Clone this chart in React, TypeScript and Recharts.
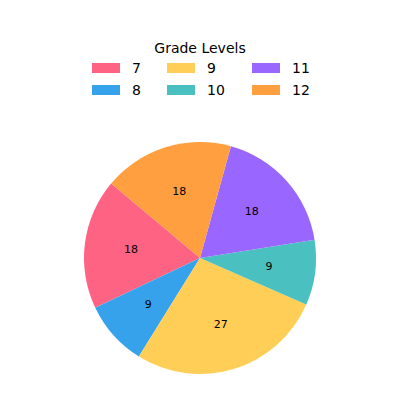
import React from "react";
import { PieChart, Pie, Cell, Legend } from "recharts";

const grades = ["7", "8", "9", "10", "11", "12"];
const percents = [18, 9, 27, 9, 18, 18];
const colors = ["#FF6384", "#36A2EB", "#FFCE56", "#4BC0C0", "#9966FF", "#FF9F40"];
const legendTitle = "Grade Levels";

const data = grades.map((g, i) => ({ name: g, value: percents[i] }));

const RAD = Math.PI / 180;
const FONT = "'DejaVu Sans', sans-serif";

const renderLabel = (props: any) => {
  const { cx, cy, midAngle, outerRadius, value } = props;
  const r = outerRadius * 0.6;
  const x = cx + r * Math.cos(-midAngle * RAD);
  const y = cy + r * Math.sin(-midAngle * RAD);
  return (
    <text x={x} y={y} textAnchor="middle" dominantBaseline="central" fontSize={11} fill="#000" fontFamily={FONT}>
      {value}
    </text>
  );
};

const colX = [92, 167, 252];
const rowY = [63, 85];

const LegendContent = () => (
  <div style={{ position: "relative", width: 400, height: 110, fontFamily: FONT }}>
    <div style={{ position: "absolute", left: 0, width: 400, top: 39, textAlign: "center", fontSize: 14, lineHeight: "18px", color: "#000" }}>
      {legendTitle}
    </div>
    {grades.map((g, i) => {
      const col = Math.floor(i / 2);
      const row = i % 2;
      return (
        <div key={g}>
          <div style={{ position: "absolute", left: colX[col], top: rowY[row], width: 28, height: 10, background: colors[i] }} />
          <div style={{ position: "absolute", left: colX[col] + 40, top: rowY[row] - 4, fontSize: 14, lineHeight: "18px", color: "#000" }}>{g}</div>
        </div>
      );
    })}
  </div>
);

export default function App() {
  return (
    <div style={{ position: "absolute", left: 0, top: 0, width: 400, height: 400, background: "#fff" }}>
      <PieChart width={400} height={400} margin={{ top: 0, right: 0, bottom: 0, left: 0 }}>
        <Pie
          data={data}
          dataKey="value"
          nameKey="name"
          cx={200}
          cy={258}
          outerRadius={116}
          startAngle={140}
          endAngle={500}
          stroke="none"
          label={renderLabel}
          labelLine={false}
          isAnimationActive={false}
        >
          {data.map((d, i) => (
            <Cell key={d.name} fill={colors[i]} />
          ))}
        </Pie>
        <Legend
          content={<LegendContent />}
          wrapperStyle={{ position: "absolute", left: 0, top: 0, width: 400, height: 110 }}
        />
      </PieChart>
    </div>
  );
}
